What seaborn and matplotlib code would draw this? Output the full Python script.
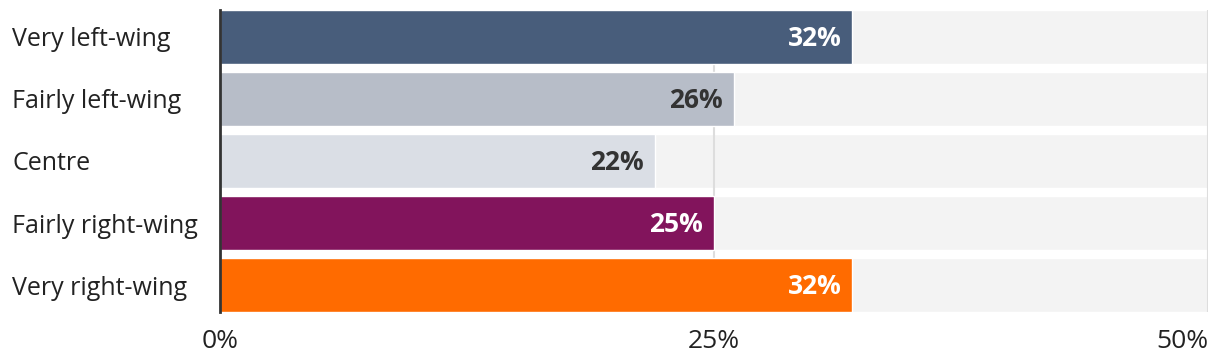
import matplotlib
matplotlib.use("Agg")
import matplotlib.pyplot as plt
import seaborn as sns
import pandas as pd

categories = ["Very left-wing", "Fairly left-wing", "Centre", "Fairly right-wing", "Very right-wing"]
values = [32, 26, 22, 25, 32]
colors = ["#485d7b", "#b7bdc8", "#dadee5", "#82145c", "#ff6b00"]
label_colors = ["white", "#333333", "#333333", "white", "white"]
xticks = [0, 25, 50]
xmax = 50

sns.set_theme(style="white")
plt.rcParams["font.family"] = ["Open Sans", "DejaVu Sans"]

df = pd.DataFrame({"group": categories, "share": values})

fig = plt.figure(figsize=(12.2, 3.64), dpi=100)
ax = fig.add_axes([220 / 1220, 52 / 364, 988 / 1220, 302 / 364])

# grey track behind every bar
ax.barh(range(len(categories)), [xmax] * len(categories), height=0.87,
        color="#f3f3f3", zorder=0)

sns.barplot(data=df, y="group", x="share", hue="group", palette=colors,
            order=categories, width=0.87, legend=False, ax=ax, zorder=2,
            saturation=1)

for i, (v, c) in enumerate(zip(values, label_colors)):
    ax.text(v - 0.55, i + 0.02, f"{v}%", ha="right", va="center", color=c,
            fontsize=19, fontweight="bold", zorder=3)

ax.set_xlim(0, xmax)
ax.set_ylim(4.435, -0.435)
ax.set_xticks(xticks)
ax.set_xticklabels([f"{t}%" for t in xticks], fontsize=19, color="#222222")
ax.get_xticklabels()[-1].set_ha("right")
ax.tick_params(axis="x", length=0, pad=12)
ax.tick_params(axis="y", length=0, pad=208 * 0.72, labelsize=18, labelcolor="#222222")
for lab in ax.get_yticklabels():
    lab.set_ha("left")
ax.set_xlabel("")
ax.set_ylabel("")

ax.grid(axis="x", color="#dddddd", linewidth=1.5)
for line in ax.get_xgridlines():
    line.set_zorder(1)

for s in ["top", "bottom", "right"]:
    ax.spines[s].set_visible(False)
ax.spines["left"].set_color("#333333")
ax.spines["left"].set_linewidth(2)
ax.spines["left"].set_zorder(4)

fig.savefig("out.png", dpi=100)
